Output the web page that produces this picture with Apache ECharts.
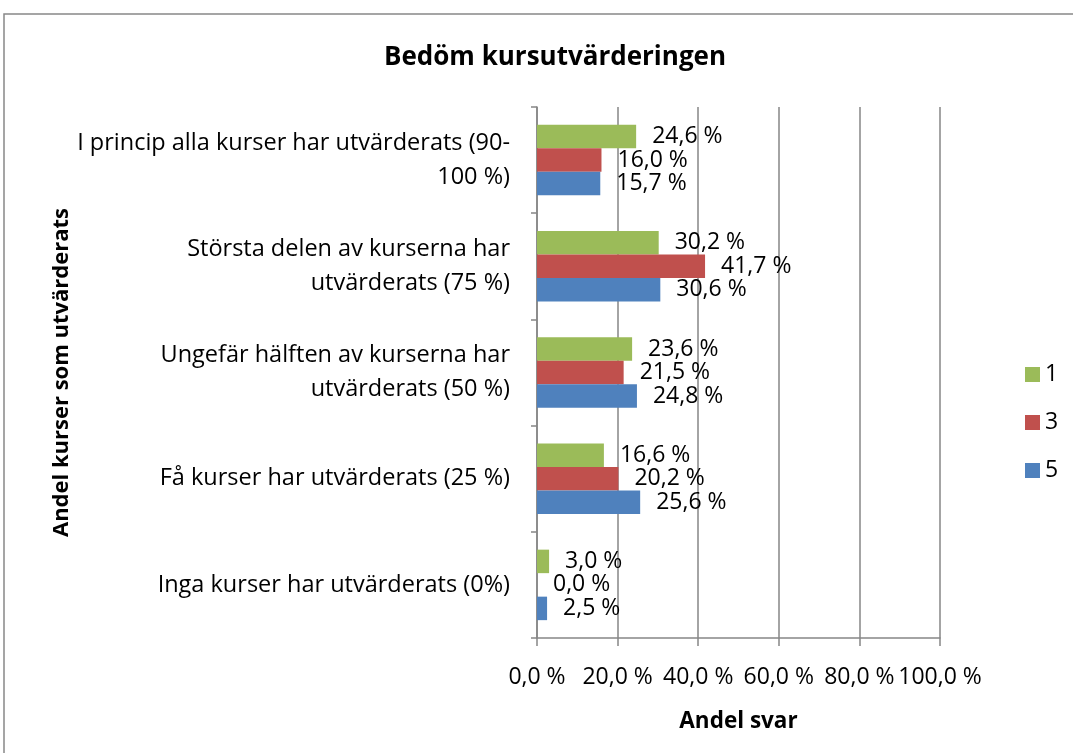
<!DOCTYPE html>
<html>
<head>
<meta charset="utf-8">
<script src="https://cdn.jsdelivr.net/npm/echarts@6/dist/echarts.min.js"></script>
<style>
  html, body { margin: 0; padding: 0; background: #fff; }
  #chart { width: 1073px; height: 753px; }
</style>
</head>
<body>
<div id="chart"></div>
<script>
// kategorier, nedifrån och upp (kategoriaxeln ritas från botten)
const categories = [
  'Inga kurser har utvärderats (0%)',
  'Få kurser har utvärderats (25 %)',
  'Ungefär hälften av kurserna har\nutvärderats (50 %)',
  'Största delen av kurserna har\nutvärderats (75 %)',
  'I princip alla kurser har utvärderats (90-\n100 %)'
];
const series1 = [3.0, 16.6, 23.6, 30.2, 24.6];
const series3 = [0.0, 20.2, 21.5, 41.7, 16.0];
const series5 = [2.5, 25.6, 24.8, 30.6, 15.7];
const legendNames = ['1', '3', '5'];
const xTicks = [0, 20, 40, 60, 80, 100];

const font = '"Open Sans", "Liberation Sans", sans-serif';
const fmt = v => v.toFixed(1).replace('.', ',') + ' %';

const chart = echarts.init(document.getElementById('chart'));

const labelCfg = {
  show: true,
  position: 'right',
  distance: 16,
  color: '#000',
  fontSize: 23,
  fontFamily: font,
  formatter: p => fmt(p.value)
};

chart.setOption({
  animation: false,
  backgroundColor: '#fff',
  title: {
    text: 'Bedöm kursutvärderingen',
    left: 550,
    textAlign: 'center',
    top: 40,
    textStyle: { fontSize: 26, fontWeight: 'bold', fontFamily: font, color: '#000' }
  },
  legend: {
    data: legendNames,
    orient: 'vertical',
    left: 1025,
    top: 363,
    padding: 0,
    itemWidth: 15,
    itemHeight: 15,
    itemGap: 25,
    icon: 'rect',
    textStyle: { fontSize: 23, fontFamily: font, color: '#000' }
  },
  grid: { left: 537, right: 133, top: 107, bottom: 115 },
  xAxis: {
    type: 'value',
    min: 0,
    max: 100,
    interval: 20,
    name: 'Andel svar',
    nameLocation: 'middle',
    nameGap: 72,
    nameTextStyle: { fontSize: 22.5, fontWeight: 'bold', fontFamily: font, color: '#000' },
    axisLine: { show: true, lineStyle: { color: '#868686', width: 1.5 } },
    axisTick: { show: true, length: 8, lineStyle: { color: '#868686', width: 1.5 } },
    axisLabel: {
      margin: 28,
      fontSize: 23,
      fontFamily: font,
      color: '#000',
      customValues: xTicks,
      formatter: v => fmt(v)
    },
    splitLine: { show: true, lineStyle: { color: '#868686', width: 1.5 } }
  },
  yAxis: {
    type: 'category',
    data: categories,
    name: 'Andel kurser som utvärderats',
    nameLocation: 'middle',
    nameGap: 463,
    nameRotate: 90,
    nameTextStyle: { fontSize: 22, fontWeight: 'bold', fontFamily: font, color: '#000' },
    axisLine: { show: true, lineStyle: { color: '#868686', width: 1.5 } },
    axisTick: { show: true, length: 6, lineStyle: { color: '#868686', width: 1.5 } },
    axisLabel: {
      margin: 27,
      fontSize: 23.5,
      lineHeight: 34,
      fontFamily: font,
      color: '#000',
      align: 'right'
    }
  },
  graphic: [{
    type: 'rect',
    shape: { x: 4, y: 14, width: 1100, height: 800 },
    style: { fill: 'none', stroke: '#888', lineWidth: 1.5 },
    silent: true
  }],
  series: [
    { name: '1', type: 'bar', data: series1, barWidth: 23.5, barGap: '0%',
      itemStyle: { color: '#9BBB59' }, label: labelCfg },
    { name: '3', type: 'bar', data: series3, barWidth: 23.5, barGap: '0%',
      itemStyle: { color: '#C0504D' }, label: labelCfg },
    { name: '5', type: 'bar', data: series5, barWidth: 23.5, barGap: '0%',
      itemStyle: { color: '#4F81BD' }, label: labelCfg }
  ]
});
</script>
</body>
</html>
